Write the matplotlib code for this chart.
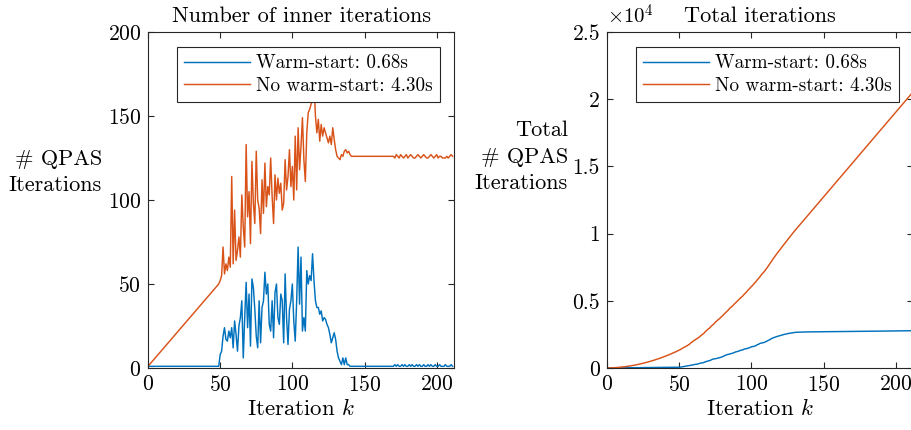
import numpy as np
import matplotlib
matplotlib.use("Agg")
import matplotlib.pyplot as plt
from matplotlib.ticker import FuncFormatter

plt.rcParams['font.family'] = ['cmr10', 'DejaVu Serif']
plt.rcParams['mathtext.fontset'] = 'cm'
plt.rcParams['axes.formatter.use_mathtext'] = True

# ---------------- data ----------------
iterations = np.arange(0, 212)

inner_no_warm = [
    1, 2, 3, 4, 5, 6, 7, 8, 9, 10, 11, 12, 13, 14, 15, 16, 17, 18, 19, 20,
    21, 22, 23, 24, 25, 26, 27, 28, 29, 30, 31, 32, 33, 34, 35, 36, 37, 38, 39, 40,
    41, 42, 43, 44, 45, 46, 47, 48, 49, 50,
    52, 55, 72, 56, 62, 58, 66, 60, 114, 62,
    94, 64, 70, 78, 66, 103, 84, 72, 133, 90,
    105, 74, 123, 98, 86, 129, 100, 95, 80, 112,
    92, 122, 96, 108, 103, 125, 102, 86, 115, 100,
    113, 104, 110, 94, 98, 124, 106, 114, 130, 108,
    120, 100, 138, 106, 143, 118, 132, 149, 124, 111,
    140, 152, 154, 157, 160, 170, 150, 140, 148, 135,
    145, 138, 143, 140, 137, 134, 138, 133, 143, 136,
    130, 126, 125, 124, 127, 126, 129, 130, 128, 129,
    127, 126,
    126, 126, 126, 126, 126, 126, 126, 126, 126, 126, 126, 126, 126, 126,
    126, 126, 126, 126, 126, 126, 126, 126, 126, 126, 126, 126, 126, 126,
    126, 125, 127, 126, 125, 127, 126, 125, 126, 127, 125, 126, 127, 126,
    125, 125, 126, 127, 126, 125, 126, 127, 126, 125, 125, 126, 127, 126,
    125, 126, 127, 125, 126, 126, 125, 125, 125, 126, 125, 126, 127, 126,
]

inner_warm = [
    1, 1, 1, 1, 1, 1, 1, 1, 1, 1, 1, 1, 1, 1, 1, 1, 1, 1, 1, 1,
    1, 1, 1, 1, 1, 1, 1, 1, 1, 1, 1, 1, 1, 1, 1, 1, 1, 1, 1, 1,
    1, 1, 1, 1, 1, 1, 1, 1, 1, 1,
    8, 10, 19, 24, 17, 16, 22, 18, 24, 12,
    28, 20, 10, 25, 30, 40, 6, 30, 51, 24,
    44, 13, 53, 48, 35, 19, 12, 40, 15, 36,
    40, 57, 44, 50, 26, 22, 40, 18, 45, 50,
    30, 26, 44, 40, 15, 56, 30, 14, 35, 40,
    50, 28, 16, 40, 72, 38, 66, 22, 30, 22,
    58, 50, 55, 52, 68, 52, 40, 36, 36, 32,
    34, 28, 30, 29, 26, 24, 20, 15, 18, 21,
    17, 10, 6, 4, 2, 6, 2, 6, 2, 2,
    1, 1,
    1, 1, 1, 1, 1, 1, 1, 1, 1, 1, 1, 1, 1, 1,
    1, 1, 1, 1, 1, 1, 1, 1, 1, 1, 1, 1, 1, 1,
    1, 2, 1, 2, 1, 1, 2, 1, 2, 1, 1, 2, 1, 2,
    1, 1, 2, 1, 2, 1, 1, 2, 1, 1, 2, 1, 2, 1,
    1, 2, 1, 1, 2, 1, 1, 1, 2, 1, 1, 1, 2, 1,
]

legend_labels = ["Warm-start: 0.68s", "No warm-start: 4.30s"]
left_yticks = [0, 50, 100, 150, 200]
right_yticks = [0, 5000, 10000, 15000, 20000, 25000]
xticks = [0, 50, 100, 150, 200]

total_warm = np.cumsum(inner_warm)
total_no_warm = np.cumsum(inner_no_warm)

BLUE = '#0072BD'
ORANGE = '#D95319'
AXC = '#262626'

fig = plt.figure(figsize=(9.11, 4.30), dpi=100)
W, H = 911, 430

def place(x0, x1, ytop, ybot):
    return [x0 / W, 1 - ybot / H, (x1 - x0) / W, (ybot - ytop) / H]

ax1 = fig.add_axes(place(148, 454, 32, 368))
ax2 = fig.add_axes(place(607, 913, 32, 368))

for ax in (ax1, ax2):
    for s in ax.spines.values():
        s.set_color(AXC)
        s.set_linewidth(0.8)
    ax.tick_params(direction='in', top=True, right=True, length=4,
                   width=0.8, colors=AXC, labelsize=15.5, labelcolor='black', pad=5)
    ax.set_xlim(0, 212)
    ax.set_xticks(xticks)
    ax.set_xlabel('Iteration $k$', fontsize=16.5, labelpad=2)

lw = 1.05
ax1.plot(iterations, inner_warm, color=BLUE, lw=lw, label=legend_labels[0])
ax1.plot(iterations, inner_no_warm, color=ORANGE, lw=lw, label=legend_labels[1])
ax1.set_ylim(0, 200)
ax1.set_yticks(left_yticks)
ax1.set_title('Number of inner iterations', fontsize=16, pad=7)
ax1.set_ylabel('# QPAS\nIterations', rotation=0, fontsize=16, ha='right',
               va='center', multialignment='right', linespacing=1.45)
ax1.yaxis.set_label_coords(-0.150, 0.582)

ax2.plot(iterations, total_warm, color=BLUE, lw=lw, label=legend_labels[0])
ax2.plot(iterations, total_no_warm, color=ORANGE, lw=lw, label=legend_labels[1])
ax2.set_ylim(0, 25000)
ax2.set_yticks(right_yticks)
ax2.yaxis.set_major_formatter(FuncFormatter(lambda v, p: '%g' % (v / 1e4)))
ax2.set_title('Total iterations', fontsize=16, pad=7)
ax2.set_ylabel('Total\n# QPAS\nIterations', rotation=0, fontsize=16, ha='right',
               va='center', multialignment='right', linespacing=1.45)
ax2.yaxis.set_label_coords(-0.127, 0.628)
ax2.text(0.0, 1.012, r'$\times10^{4}$', transform=ax2.transAxes, fontsize=15,
         ha='left', va='bottom')

for ax in (ax1, ax2):
    leg = ax.legend(loc='upper right', bbox_to_anchor=(0.955, 0.955), fontsize=13.8,
                    frameon=True, fancybox=False, edgecolor=AXC, framealpha=1,
                    handlelength=3.4, handletextpad=0.35, borderpad=0.38,
                    labelspacing=0.25, borderaxespad=0)
    leg.get_frame().set_linewidth(0.8)

fig.savefig('out.png', dpi=100)
